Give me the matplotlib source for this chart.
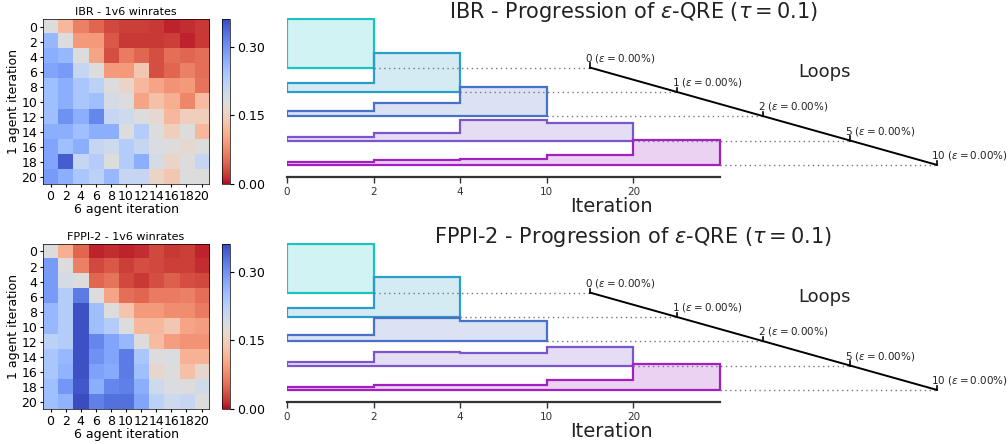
import numpy as np
import matplotlib.pyplot as plt

# iteration axis / loops
iter_labels = ['0', '2', '4', '10', '20']
loop_labels = [0, 1, 2, 5, 10]
ibr_eps = [0.0, 0.0, 0.0, 0.0, 0.0]
fppi_eps = [0.0, 0.0, 0.0, 0.0, 0.0]

# mixture weights per iteration (row k has k+1 entries)
ibr_mix = [[1.0],
           [0.19, 0.81],
           [0.11, 0.28, 0.61],
           [0.07, 0.15, 0.42, 0.36],
           [0.055, 0.10, 0.13, 0.21, 0.505]]
fppi_mix = [[1.0],
            [0.18, 0.82],
            [0.12, 0.47, 0.41],
            [0.08, 0.27, 0.26, 0.39],
            [0.055, 0.09, 0.11, 0.21, 0.535]]

# 1v6 winrates (rows: 1 agent iteration, cols: 6 agent iteration)
heat_ticks = list(range(0, 21, 2))
ibr_win = np.array([
    [0.18, 0.12, 0.07, 0.05, 0.03, 0.025, 0.025, 0.02, 0.01, 0.015, 0.02],
    [0.26, 0.18, 0.09, 0.09, 0.04, 0.02, 0.02, 0.02, 0.025, 0.01, 0.02],
    [0.27, 0.26, 0.18, 0.10, 0.035, 0.065, 0.05, 0.035, 0.055, 0.05, 0.055],
    [0.28, 0.29, 0.21, 0.18, 0.09, 0.09, 0.14, 0.035, 0.05, 0.07, 0.055],
    [0.25, 0.27, 0.24, 0.22, 0.18, 0.16, 0.12, 0.10, 0.085, 0.09, 0.06],
    [0.25, 0.27, 0.24, 0.25, 0.19, 0.18, 0.10, 0.13, 0.11, 0.075, 0.125],
    [0.25, 0.30, 0.27, 0.31, 0.21, 0.20, 0.18, 0.17, 0.12, 0.15, 0.15],
    [0.27, 0.27, 0.25, 0.27, 0.27, 0.18, 0.23, 0.18, 0.15, 0.18, 0.12],
    [0.28, 0.25, 0.27, 0.21, 0.20, 0.23, 0.21, 0.185, 0.18, 0.17, 0.18],
    [0.28, 0.345, 0.21, 0.23, 0.18, 0.23, 0.27, 0.19, 0.16, 0.18, 0.21],
    [0.29, 0.27, 0.24, 0.22, 0.26, 0.21, 0.21, 0.16, 0.14, 0.18, 0.18],
])
fppi_win = np.array([
    [0.18, 0.11, 0.05, 0.01, 0.015, 0.01, 0.015, 0.03, 0.02, 0.025, 0.01],
    [0.29, 0.18, 0.07, 0.03, 0.04, 0.025, 0.035, 0.03, 0.025, 0.025, 0.015],
    [0.29, 0.19, 0.18, 0.05, 0.06, 0.03, 0.02, 0.035, 0.045, 0.035, 0.03],
    [0.29, 0.23, 0.32, 0.18, 0.10, 0.055, 0.05, 0.065, 0.065, 0.07, 0.055],
    [0.26, 0.23, 0.355, 0.25, 0.18, 0.135, 0.09, 0.09, 0.08, 0.08, 0.065],
    [0.26, 0.23, 0.355, 0.25, 0.23, 0.18, 0.12, 0.12, 0.14, 0.10, 0.095],
    [0.22, 0.23, 0.355, 0.31, 0.28, 0.26, 0.18, 0.125, 0.095, 0.085, 0.085],
    [0.24, 0.26, 0.355, 0.30, 0.28, 0.32, 0.24, 0.18, 0.185, 0.115, 0.115],
    [0.24, 0.265, 0.355, 0.285, 0.275, 0.32, 0.25, 0.165, 0.18, 0.13, 0.165],
    [0.25, 0.295, 0.35, 0.27, 0.31, 0.315, 0.27, 0.20, 0.185, 0.18, 0.195],
    [0.25, 0.265, 0.36, 0.315, 0.33, 0.33, 0.28, 0.22, 0.20, 0.21, 0.18],
])

row_colors = ['#1cc3c3', '#2a9ec8', '#4a71c8', '#7a55cc', '#a21fc2']


def draw_heat(fig, y0, data, name):
    ax = fig.add_axes([0.0427, y0, 0.1647, 0.3723])
    im = ax.imshow(data, cmap='coolwarm_r', vmin=0, vmax=0.36, aspect='auto')
    ax.set_xticks(range(11))
    ax.set_xticklabels(heat_ticks, fontsize=9)
    ax.set_yticks(range(11))
    ax.set_yticklabels(heat_ticks, fontsize=9)
    ax.tick_params(length=2.5, pad=1.5)
    ax.set_xlabel('6 agent iteration', fontsize=9, labelpad=0)
    ax.set_ylabel('1 agent iteration', fontsize=9, labelpad=1)
    ax.set_title(name + ' - 1v6 winrates', fontsize=8, pad=3)
    for s in ax.spines.values():
        s.set_linewidth(0.5)
    cax = fig.add_axes([0.22, y0, 0.0082, 0.3723])
    cb = fig.colorbar(im, cax=cax, ticks=[0.0, 0.15, 0.30], format='%.2f')
    cb.ax.tick_params(labelsize=9, length=3, pad=2)
    cb.outline.set_linewidth(0.5)


def draw_prog(fig, y0, mix, eps, name):
    ax = fig.add_axes([0.2847, y0, 0.6875, 0.3585])
    ax.set_xlim(0, 8)
    ax.set_ylim(-4.5, 2.05)
    n = len(mix)
    for k, probs in enumerate(mix):
        edges = np.arange(k + 2)
        vals = -k + 2 * np.array(probs)
        xs = np.concatenate([[edges[0]], np.repeat(edges, 2)[1:-1], [edges[-1]]])
        ys = np.concatenate([[-k], np.repeat(vals, 2), [-k]])
        ax.fill(xs, ys, facecolor=row_colors[k] + '33', edgecolor=row_colors[k], lw=1.6)
        # dotted guide to loop line
        ax.plot([k + 1, k + 3.5], [-k, -k], ls=(0, (1, 2.5)), color='#777777', lw=1)
    # loops axis
    lx = [k + 3.5 for k in range(n)]
    ly = [-k for k in range(n)]
    ax.plot(lx, ly, color='black', lw=1.4, clip_on=False)
    for k in range(n):
        ax.plot([lx[k], lx[k]], [ly[k], ly[k] + 0.17], color='black', lw=1.2, clip_on=False)
        ax.text(lx[k] - 0.06, ly[k] + 0.12, r'%d ($\epsilon = %.2f\%%$)' % (loop_labels[k], eps[k]),
                fontsize=7.5, ha='left', va='bottom', color='#222222')
    ax.text(6.21, -0.19, 'Loops', fontsize=13, ha='center', va='center', color='#222222')
    ax.text(4.0, 2.27, name + r' - Progression of $\epsilon$-QRE ($\tau = 0.1$)',
            fontsize=15, ha='center', va='center', color='#222222', clip_on=False)
    ax.text(3.75, -5.72, 'Iteration', fontsize=14, ha='center', va='center', color='#222222')
    for s in ['left', 'top', 'right']:
        ax.spines[s].set_visible(False)
    ax.spines['bottom'].set_bounds(0, n)
    ax.spines['bottom'].set_linewidth(1.6)
    ax.spines['bottom'].set_color('#333333')
    ax.set_xticks(range(n))
    ax.set_xticklabels(iter_labels, fontsize=7.5, color='#333333')
    ax.tick_params(axis='x', length=4, width=1, color='#333333', pad=3)
    ax.set_yticks([])


fig = plt.figure(figsize=(10.08, 4.44), dpi=100)
draw_heat(fig, 0.5849, ibr_win, 'IBR')
draw_heat(fig, 0.0782, fppi_win, 'FPPI-2')
draw_prog(fig, 0.6014, ibr_mix, ibr_eps, 'IBR')
draw_prog(fig, 0.0946, fppi_mix, fppi_eps, 'FPPI-2')
fig.savefig('out.png', dpi=100)
